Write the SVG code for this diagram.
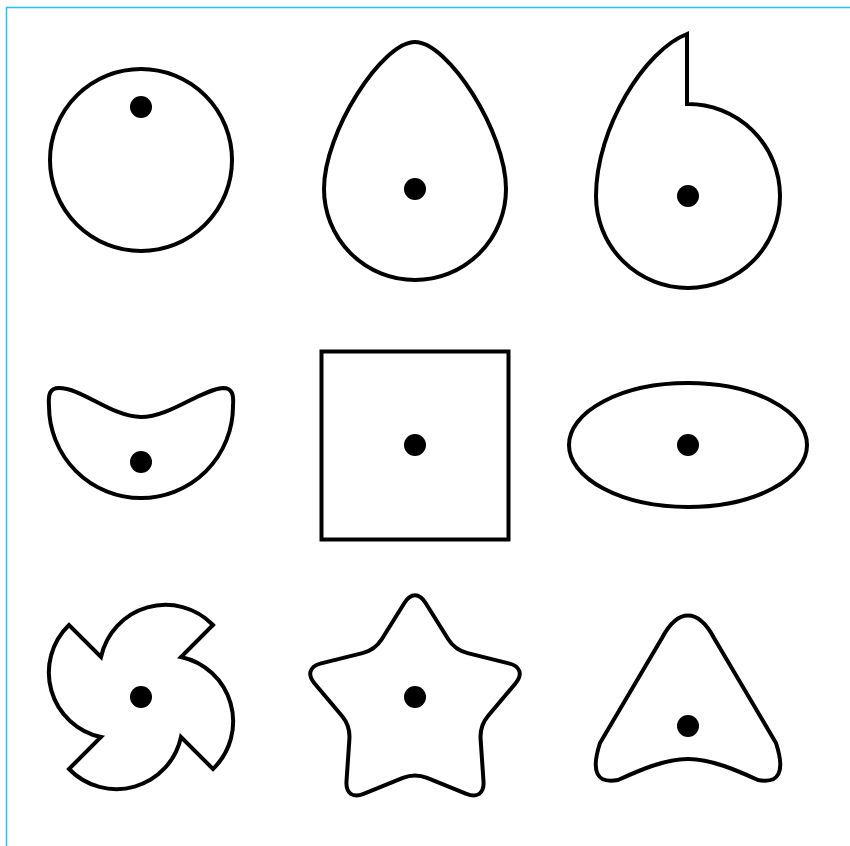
<svg xmlns="http://www.w3.org/2000/svg" width="850" height="846" viewBox="0 0 850 846">
<style>
.shape{fill:#ffffff;stroke:#000000;stroke-width:4;stroke-linejoin:miter}
.dot{fill:#000000}
.frame{stroke:#2bbcf0;stroke-width:1.5;fill:none}
</style>
<rect width="850" height="846" fill="#ffffff"/>
<g id="frame">
<line class="frame" x1="6" y1="7.5" x2="850" y2="7.5"/>
<line class="frame" x1="6.5" y1="7" x2="6.5" y2="846"/>
</g>
<g id="circle">
<circle class="shape" cx="141" cy="160" r="91"/>
<circle class="dot" cx="141" cy="107" r="11"/>
</g>
<g id="teardrop">
<path class="shape" d="M415,42 C448,42 506,132 506,189 A91 91 0 0 1 324,189 C324,132 382,42 415,42 Z"/>
<circle class="dot" cx="415" cy="189" r="11"/>
</g>
<g id="comma">
<path class="shape" d="M687,104 A92 92 0 1 1 596,196 C596,128 645,50 687,34 Z"/>
<circle class="dot" cx="688" cy="196" r="11"/>
</g>
<g id="bowl">
<path class="shape" d="M49,406 A92 92 0 0 0 233,406 C234,394 232,388 223,388 C200,390 170,417 141,417 C112,417 82,388 59,388 C50,388 48,394 49,406 Z"/>
<circle class="dot" cx="141" cy="462" r="11"/>
</g>
<g id="square">
<rect class="shape" x="321.5" y="351.5" width="187" height="188" stroke-width="4.5"/>
<circle class="dot" cx="415" cy="445" r="11"/>
</g>
<g id="ellipse">
<ellipse class="shape" cx="688" cy="445" rx="119" ry="62"/>
<circle class="dot" cx="688" cy="445" r="11"/>
</g>
<g id="pinwheel">
<path class="shape" d="M101,657 A66 66 0 0 1 213,625 L181,657 A66 66 0 0 1 213,769 L181,737 A66 66 0 0 1 69,769 L101,737 A66 66 0 0 1 69,625 Z"/>
<circle class="dot" cx="141" cy="697" r="11"/>
</g>
<g id="star">
<path class="shape" d="M404.4,603 C410.8,592.8 419.2,592.8 425.6,603 L448.1,639 C452.2,645.6 460,651.2 467.6,653.1 L508.8,663.4 C520.4,666.3 523.1,674.3 515.4,683.5 L488,716 C483,722 480.1,731.2 480.6,739 L483.5,781.4 C484.3,793.3 477.5,798.3 466.4,793.8 L427.1,777.9 C419.8,775 410.2,775 402.9,777.9 L363.6,793.8 C352.5,798.3 345.7,793.3 346.5,781.4 L349.4,739 C349.9,731.2 347,722 342,716 L314.6,683.5 C306.9,674.3 309.6,666.3 321.2,663.4 L362.4,653.1 C370,651.2 377.8,645.6 381.9,639 Z"/>
<circle class="dot" cx="415" cy="697" r="11"/>
</g>
<g id="triangle">
<path class="shape" d="M662,638 C678,608 698,608 714,638 L776,743 Q790,786 758,780 C736,770 711,759 688,759 C665,759 640,770 618,780 Q586,786 600,743 Z"/>
<circle class="dot" cx="688" cy="726" r="11"/>
</g>
</svg>
